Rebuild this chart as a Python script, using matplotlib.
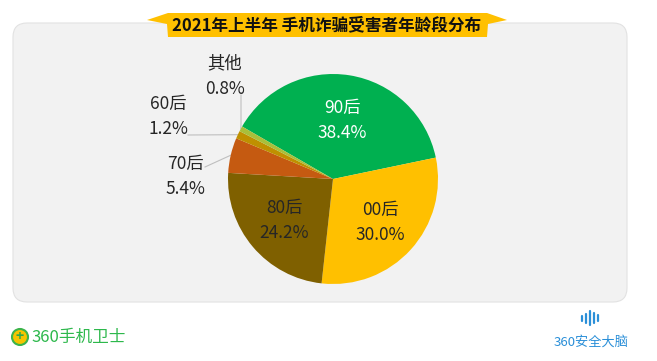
import matplotlib.pyplot as plt
import numpy as np
from matplotlib.patches import FancyBboxPatch, Polygon, Circle

plt.rcParams['font.family'] = ['Noto Sans CJK SC', 'DejaVu Sans']

groups = ['90后', '00后', '80后', '70后', '60后', '其他']
shares = [38.4, 30.0, 24.2, 5.4, 1.2, 0.8]
colors = ['#00B050', '#FFC000', '#7F6000', '#C55A11', '#BF9000', '#A9BF3A']
title = '2021年上半年 手机诈骗受害者年龄段分布'

fig = plt.figure(figsize=(6.57, 3.61), dpi=100)

# background in pixel coords
bg = fig.add_axes([0, 0, 1, 1])
bg.set_xlim(0, 657)
bg.set_ylim(361, 0)
bg.axis('off')
bg.add_patch(FancyBboxPatch((13, 23), 614, 279, boxstyle='round,pad=0,rounding_size=14',
                            fc='#F2F2F2', ec='#E2E2E2', lw=0.8))
bg.add_patch(Polygon([(147, 20), (168, 13), (487, 13), (507, 20), (488, 24), (487, 37),
                      (168, 37), (167, 24)], closed=True, fc='#FFC000', ec='none'))
bg.text(327, 25, title, ha='center', va='center', fontsize=12, fontweight='bold', color='#111111')

# logos
bg.add_patch(Circle((20, 337), 8, fc='#F5C400', ec='#3CB44A', lw=1.5))
bg.text(20, 337, '+', ha='center', va='center', fontsize=10, fontweight='bold', color='#2DA84A')
bg.text(31, 337, '360手机卫士', ha='left', va='center', fontsize=12, color='#2DB84C')
for i, h in enumerate([5, 9, 14, 10, 6]):
    bg.plot([582 + i * 4, 582 + i * 4], [318 - h / 2, 318 + h / 2], color='#2A8FD8', lw=1.6,
            solid_capstyle='round')
bg.text(591, 342, '360安全大脑', ha='center', va='center', fontsize=9.5, color='#2A8FD8')

# pie, centre (333,179) px, radius 105 px
cx, cy, rr = 333, 179, 105
ax = fig.add_axes([(cx - rr) / 657, 1 - (cy + rr) / 361, 2 * rr / 657, 2 * rr / 361])
wedges, _ = ax.pie(shares, colors=colors, startangle=150, counterclock=False, radius=1.0,
                   wedgeprops=dict(linewidth=0))
ax.set_xlim(-1, 1)
ax.set_ylim(-1, 1)
ax.set_aspect('auto')

def mid(w, r):
    a = np.deg2rad((w.theta1 + w.theta2) / 2)
    return r * np.cos(a), r * np.sin(a)

inside = {0: ('white', 0.56), 1: ('#262626', 0.61), 2: ('#262626', 0.61)}
for i, (c, r) in inside.items():
    x, y = mid(wedges[i], r)
    ax.text(x, y, f'{groups[i]}\n{shares[i]:.1f}%', ha='center', va='center', fontsize=12.5,
            color=c, linespacing=1.5)

# outside labels (figure pixel positions) and leader line starts
outside = {3: (185, 176, 205, 167), 4: (168, 116, 188, 135), 5: (225, 76, 241, 95)}
for i, (tx, ty, lx, ly) in outside.items():
    bg.text(tx, ty, f'{groups[i]}\n{shares[i]:.1f}%', ha='center', va='center', fontsize=12.5,
            color='#262626', linespacing=1.5)
    x, y = mid(wedges[i], 1.0)
    px = cx + x * rr
    py = cy - y * rr
    if i == 5:
        bg.plot([lx, lx, px], [ly, py - 4, py], color='#BFBFBF', lw=0.8)
    else:
        bg.plot([lx, px], [ly, py], color='#BFBFBF', lw=0.8)

fig.savefig('out.png', dpi=100)
